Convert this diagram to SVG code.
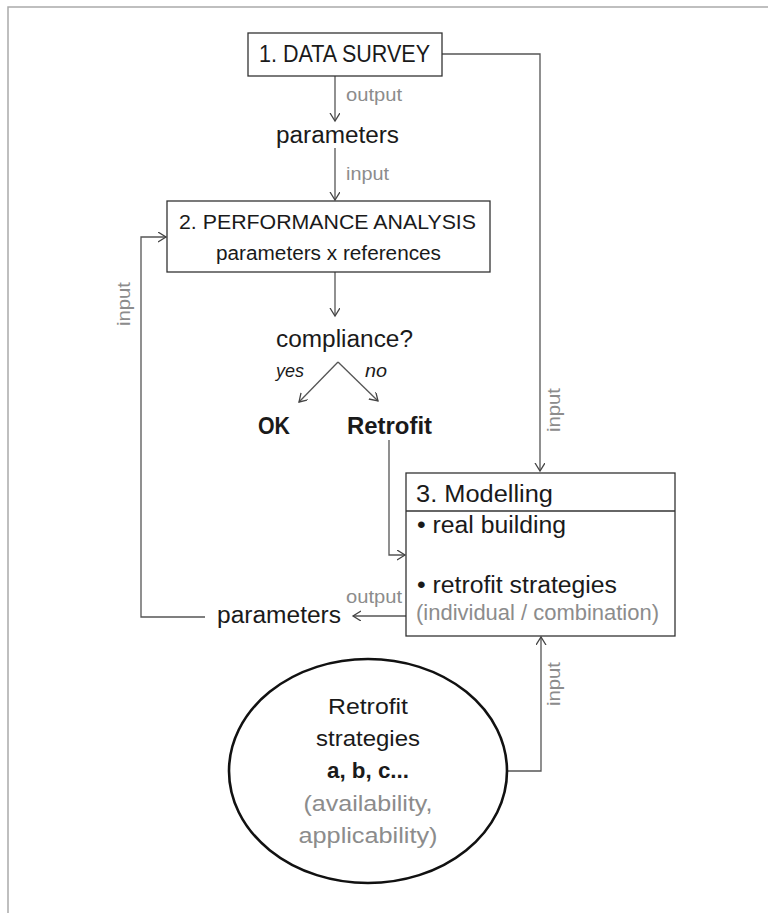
<svg xmlns="http://www.w3.org/2000/svg" width="768" height="913" viewBox="0 0 768 913">
<style>
text{font-family:"Liberation Sans",Arial,sans-serif;fill:#1a1a1a}
.main{font-size:23px}
.lbl{font-size:18px;fill:#8c8c8c}
.gray{fill:#8c8c8c}
.b{font-weight:bold}
.i{font-style:italic;font-size:18px}
.box{fill:#fff;stroke:#333;stroke-width:1.3}
.con{fill:none;stroke:#555;stroke-width:1.3}
</style>
<defs>
<marker id="arr" markerUnits="userSpaceOnUse" markerWidth="12" markerHeight="12" refX="8" refY="5" orient="auto">
<path d="M0,0 L8,5 L0,10" fill="none" stroke="#444" stroke-width="1.3"/>
</marker>
</defs>
<rect width="768" height="913" fill="#fff"/>
<path d="M8,913 V7 H768" fill="none" stroke="#aaa" stroke-width="1.5"/>

<g id="connectors">
<polyline class="con" points="442,54 540,54 540,471" marker-end="url(#arr)"/>
<line class="con" x1="335" y1="76" x2="335" y2="121" marker-end="url(#arr)"/>
<line class="con" x1="335" y1="148" x2="335" y2="200" marker-end="url(#arr)"/>
<line class="con" x1="335" y1="272" x2="335" y2="316" marker-end="url(#arr)"/>
<line class="con" x1="338" y1="362" x2="299" y2="402" marker-end="url(#arr)"/>
<line class="con" x1="338" y1="362" x2="378" y2="401" marker-end="url(#arr)"/>
<polyline class="con" points="389,440 389,555 405,555" marker-end="url(#arr)"/>
<line class="con" x1="406" y1="616" x2="353" y2="616" marker-end="url(#arr)"/>
<polyline class="con" points="205,617 141,617 141,237 166,237" marker-end="url(#arr)"/>
<polyline class="con" points="507,771 541,771 541,637" marker-end="url(#arr)"/>
<text class="lbl" x="346" y="101" textLength="56" lengthAdjust="spacingAndGlyphs">output</text>
<text class="lbl" x="346" y="180" textLength="43" lengthAdjust="spacingAndGlyphs">input</text>
<text class="lbl" text-anchor="middle" transform="translate(130,304) rotate(-90)" textLength="44" lengthAdjust="spacingAndGlyphs">input</text>
<text class="lbl" text-anchor="middle" transform="translate(560,410) rotate(-90)" textLength="44" lengthAdjust="spacingAndGlyphs">input</text>
<text class="lbl" text-anchor="middle" transform="translate(560,684) rotate(-90)" textLength="44" lengthAdjust="spacingAndGlyphs">input</text>
<text class="lbl" x="346" y="603" textLength="56" lengthAdjust="spacingAndGlyphs">output</text>
<text class="i" x="276" y="377" textLength="28" lengthAdjust="spacingAndGlyphs">yes</text>
<text class="i" x="365" y="377" textLength="22" lengthAdjust="spacingAndGlyphs">no</text>
</g>

<g id="data-survey">
<rect class="box" x="248" y="33" width="194" height="43"/>
<text class="main" x="259" y="62" textLength="171" lengthAdjust="spacingAndGlyphs">1. DATA SURVEY</text>
</g>

<g id="parameters-top">
<text class="main" x="276" y="143" textLength="123" lengthAdjust="spacingAndGlyphs">parameters</text>
</g>

<g id="performance-analysis">
<rect class="box" x="167" y="201" width="323" height="71"/>
<text style="font-size:21px" x="179" y="229" textLength="297" lengthAdjust="spacingAndGlyphs">2. PERFORMANCE ANALYSIS</text>
<text style="font-size:20px" x="216" y="260" textLength="225" lengthAdjust="spacingAndGlyphs">parameters x references</text>
</g>

<g id="compliance">
<text class="main" x="276" y="347" textLength="137" lengthAdjust="spacingAndGlyphs">compliance?</text>
</g>

<g id="ok">
<text class="main b" x="258" y="434" textLength="32" lengthAdjust="spacingAndGlyphs">OK</text>
</g>

<g id="retrofit">
<text class="main b" x="347" y="434" textLength="85" lengthAdjust="spacingAndGlyphs">Retrofit</text>
</g>

<g id="modelling">
<rect class="box" x="406" y="473" width="269" height="163"/>
<line x1="406" y1="511" x2="675" y2="511" stroke="#333" stroke-width="1.3"/>
<text class="main" x="416" y="502" textLength="137" lengthAdjust="spacingAndGlyphs">3. Modelling</text>
<text class="main" x="417" y="533" textLength="149" lengthAdjust="spacingAndGlyphs">• real building</text>
<text class="main" x="417" y="593" textLength="200" lengthAdjust="spacingAndGlyphs">• retrofit strategies</text>
<text class="gray" style="font-size:22px" x="416" y="620" textLength="243" lengthAdjust="spacingAndGlyphs">(individual / combination)</text>
</g>

<g id="parameters-bottom">
<text class="main" x="217" y="623" textLength="124" lengthAdjust="spacingAndGlyphs">parameters</text>
</g>

<g id="strategies">
<ellipse cx="368" cy="771" rx="139" ry="112" fill="#fff" stroke="#111" stroke-width="2.6"/>
<g style="font-size:22px" text-anchor="middle">
<text x="368" y="714" textLength="80" lengthAdjust="spacingAndGlyphs">Retrofit</text>
<text x="368" y="746" textLength="104" lengthAdjust="spacingAndGlyphs">strategies</text>
<text class="b" x="368" y="778" textLength="82" lengthAdjust="spacingAndGlyphs">a, b, c...</text>
<text class="gray" x="368" y="811" textLength="129" lengthAdjust="spacingAndGlyphs">(availability,</text>
<text class="gray" x="368" y="843" textLength="139" lengthAdjust="spacingAndGlyphs">applicability)</text>
</g>
</g>
</svg>
